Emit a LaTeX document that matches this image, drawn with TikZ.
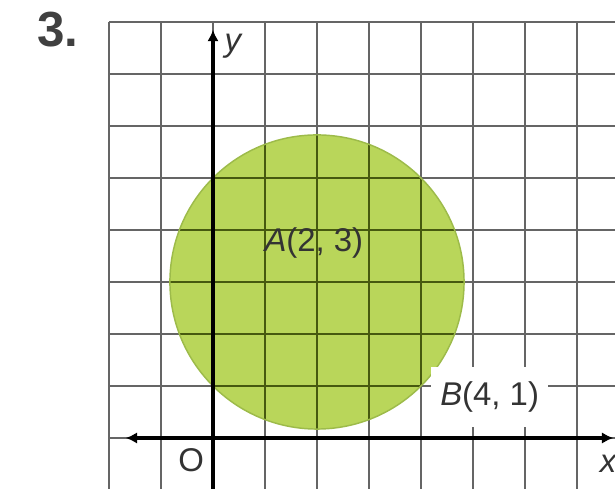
\documentclass[tikz,border=0pt]{standalone}
\usepackage{fontspec}
\setmainfont{Liberation Sans}
\usepackage{tikz}
\usetikzlibrary{arrows.meta, positioning, calc}
\definecolor{gline}{HTML}{656565}
\definecolor{gdark}{HTML}{46590F}
\definecolor{disc}{HTML}{B9D65A}
\definecolor{discedge}{HTML}{9DBB4A}
\tikzset{
  >={Latex[length=2.2mm,width=2.2mm]},
  font=\fontsize{18}{20}\selectfont,
  gridline/.style={draw=gline, line width=1.5pt},
  gridin/.style={draw=gdark, line width=1.5pt},
  axis/.style={line width=1.8pt, draw=black},
  lbl/.style={inner sep=1pt, text=black!80}
}
\begin{document}
\begin{tikzpicture}
  \useasboundingbox (-4.096,-0.98) rectangle (7.731,8.423);
  \coordinate (A) at (2,3);
  \coordinate (B) at (4,1);
  \coordinate (xl) at (-1.68,0);
  \coordinate (xr) at (7.70,0);
  \coordinate (yb) at (0,-1);
  \coordinate (yt) at (0,7.85);
  \node[font=\fontsize{27}{28}\selectfont\bfseries, text=black!75] (num) at (-2.98,7.86) {3.};
  \fill[disc] (A) circle (2.828);
  \draw[gridline] (-2,-1) grid (7.73,8);
  \begin{scope}
    \clip (A) circle (2.828);
    \draw[gridin] (-2,-1) grid (7.73,8);
  \end{scope}
  \draw[discedge, line width=0.8pt] (A) circle (2.828);
  \draw[axis, <->] (xl) -- (xr);
  \draw[axis, ->] (yb) -- (yt);
  \node[lbl] (ylab) at (0.38,7.53) {\itshape y};
  \node[lbl] (xlab) at (7.6,-0.5) {\itshape x};
  \node[lbl] (olab) at (-0.42,-0.42) {O};
  \node[lbl] (alab) at (1.94,3.75) {\textit{A}(2, 3)};
  \node[lbl, fill=white, inner xsep=5pt, inner ysep=8pt] (blab) at (5.32,0.78) {\textit{B}(4, 1)};
\end{tikzpicture}
\end{document}
